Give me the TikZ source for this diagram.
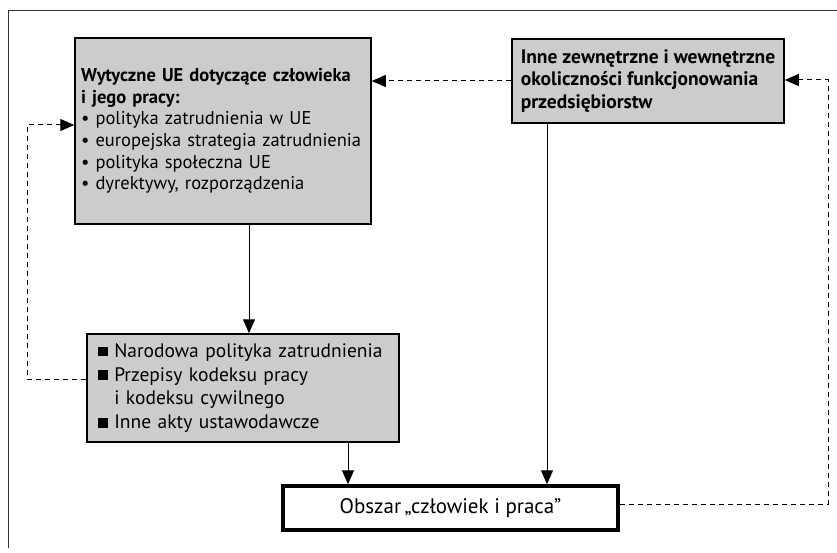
\documentclass[tikz,border=0pt]{standalone}
\usepackage{fontspec}
\setmainfont{PT Sans}
\usetikzlibrary{arrows.meta}
\def\sqbullet{\rule[0.05em]{0.5em}{0.5em}}
\tikzset{
	greybox/.style={draw, line width=1.5pt, fill=black!20, align=left, anchor=center,
		font=\fontsize{19.5}{22.5}\selectfont},
	arr/.style={line width=1pt, -{Triangle[length=14pt,width=12pt]}},
	darr/.style={line width=1pt, dash pattern=on 5pt off 4pt, -{Triangle[length=14pt,width=12pt]}},
}
\begin{document}
\begin{tikzpicture}[x=1pt, y=-1pt]
			%%%%% START %%%%%
			\useasboundingbox (0, 0) rectangle (837, 553);
			
			\draw[line width=1pt, color=black!80] (837, 11) -- (8, 11) -- (8, 548);
			
			\node[greybox, minimum width=296pt, minimum height=186pt, text width=284pt, inner xsep=6pt,
				font=\fontsize{18.5}{21.6}\selectfont] (wytyczne) at (223, 131)
				{\textbf{Wytyczne UE dotyczące człowieka}\\ \textbf{i jego pracy:}\\ • polityka zatrudnienia w UE\\ • europejska strategia zatrudnienia\\ • polityka społeczna UE\\ • dyrektywy, rozporządzenia\\[6pt]};
			
			\node[greybox, minimum width=272pt, minimum height=84pt] (inne) at (648, 81)
				{\textbf{Inne zewnętrzne i wewnętrzne}\\ \textbf{okoliczności funkcjonowania}\\ \textbf{przedsiębiorstw}};
			
			\node[greybox, minimum width=312pt, minimum height=108pt, text width=290pt, inner xsep=11pt,
				font=\fontsize{19.5}{23.7}\selectfont] (narodowa) at (243, 388)
				{\sqbullet\ Narodowa polityka zatrudnienia\\ \sqbullet\ Przepisy kodeksu pracy\\ \phantom{\sqbullet\ }i kodeksu cywilnego\\ \sqbullet\ Inne akty ustawodawcze};
			
			\node[draw, line width=3.5pt, fill=white, minimum width=335pt, minimum height=44pt,
				font=\fontsize{21}{24}\selectfont] (obszar) at (450.5, 508) {Obszar\,„człowiek i praca”};
			
			\coordinate (lbend) at (27, 0);
			\coordinate (rbend) at (828, 0);
			
			\draw[arr] ([xshift=26pt]wytyczne.south) -- ([xshift=26pt]wytyczne.south |- narodowa.north);
			\draw[arr] ([xshift=105pt]narodowa.south) -- ([xshift=105pt]narodowa.south |- obszar.north);
			\draw[arr] ([xshift=-101pt]inne.south) -- ([xshift=-101pt]inne.south |- obszar.north);
			
			\draw[darr] (inne.west) -- (inne.west -| wytyczne.east);
			\draw[darr] ([yshift=9pt]narodowa.west) -- ([yshift=9pt]narodowa.west -| lbend) |- ([yshift=6pt]wytyczne.west);
			\draw[darr] ([yshift=4pt]obszar.east) -- ([yshift=4pt]obszar.east -| rbend) |- ([yshift=1pt]inne.east);
			
			%%%%% END %%%%%
\end{tikzpicture}
\end{document}
